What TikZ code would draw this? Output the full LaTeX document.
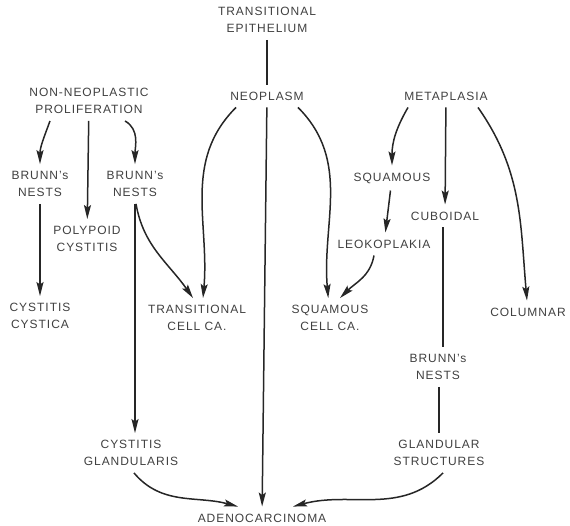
\documentclass[tikz,border=0pt]{standalone}
\usepackage{fontspec}
\setmainfont[LetterSpace=8]{Liberation Sans}
\usetikzlibrary{arrows.meta}

\begin{document}
\begin{tikzpicture}[x=1pt,y=1pt,
        link/.style={draw=black!85,line width=1.5pt,-{Stealth[length=14pt,width=7pt,inset=2.5pt]}},
        term/.style={font=\fontsize{12}{17}\selectfont,align=center,inner sep=7pt,text=black!75},
        plain/.style={-}]
  \useasboundingbox (0,0) rectangle (570,-526);

  \node[term] (Epithelium) at (267,-20) {TRANSITIONAL\\EPITHELIUM};
  \node[term] (Neoplasm) at (267,-96) {NEOPLASM};
  \node[term] (Proliferation) at (89,-101) {NON-NEOPLASTIC\\PROLIFERATION};
  \node[term] (Metaplasia) at (446,-96) {METAPLASIA};

  \node[term] (Brunn A) at (40,-184) {BRUNN's\\NESTS};
  \node[term] (Brunn B) at (135,-184) {BRUNN's\\NESTS};
  \node[term] (Polypoid) at (87,-239) {POLYPOID\\CYSTITIS};
  \node[term] (Cystica) at (40,-316) {CYSTITIS\\CYSTICA};
  \node[term] (Trans Ca) at (197,-318) {TRANSITIONAL\\CELL CA.};
  \node[term] (Squam Ca) at (330,-318) {SQUAMOUS\\CELL CA.};
  \node[term] (Columnar) at (528,-312) {COLUMNAR};

  \node[term] (Squamous) at (392,-178) {SQUAMOUS};
  \node[term] (Cuboidal) at (445,-216) {CUBOIDAL};
  \node[term] (Leokoplakia) at (384,-244) {LEOKOPLAKIA};
  \node[term] (Brunn C) at (438,-367) {BRUNN's\\NESTS};
  \node[term] (Glandular) at (439,-453) {GLANDULAR\\STRUCTURES};
  \node[term] (Glandularis) at (131,-453) {CYSTITIS\\GLANDULARIS};
  \node[term] (Adeno) at (262,-518) {ADENOCARCINOMA};

  \path[every edge/.style={link}]
        (Epithelium) edge[plain] (Neoplasm)
        ([xshift=-39pt]Proliferation.south) edge[out=250,in=90] (Brunn A)
        (Proliferation) edge (Polypoid)
        ([xshift=36pt]Proliferation.south) edge[out=-30,in=90] (Brunn B)
        (Brunn A) edge (Cystica)
        ([xshift=1pt]Brunn B.south) edge[out=-80,in=125] ([xshift=-4pt]Trans Ca.north)
        (Brunn B.south) edge (Brunn B.south |- Glandularis.north)

        ([xshift=-31pt]Neoplasm.south) edge[out=225,in=85] ([xshift=6pt]Trans Ca.north)
        (Neoplasm) edge (Adeno)
        ([xshift=31pt]Neoplasm.south) edge[out=-45,in=95] (Squam Ca)

        ([xshift=-38pt]Metaplasia.south) edge[out=240,in=90] (Squamous)
        (Metaplasia) edge (Cuboidal)
        ([xshift=32pt]Metaplasia.south) edge[out=-55,in=95] (Columnar)
        (Squamous) edge (Leokoplakia)
        ([xshift=-10pt]Leokoplakia.south) edge[out=-100,in=45] ([xshift=10pt]Squam Ca.north)

        ([xshift=-2pt]Cuboidal.south) edge[plain] ([xshift=-2pt]Cuboidal.south |- Brunn C.north)
        ([xshift=1pt]Brunn C.south) edge[plain] ([xshift=1pt]Brunn C.south |- Glandular.north)
        ([xshift=3pt]Glandularis.south) edge[out=-50,in=165] ([xshift=-24pt]Adeno.north)
        ([xshift=4pt]Glandular.south) edge[out=225,in=15] ([xshift=31pt]Adeno.north);
\end{tikzpicture}
\end{document}
